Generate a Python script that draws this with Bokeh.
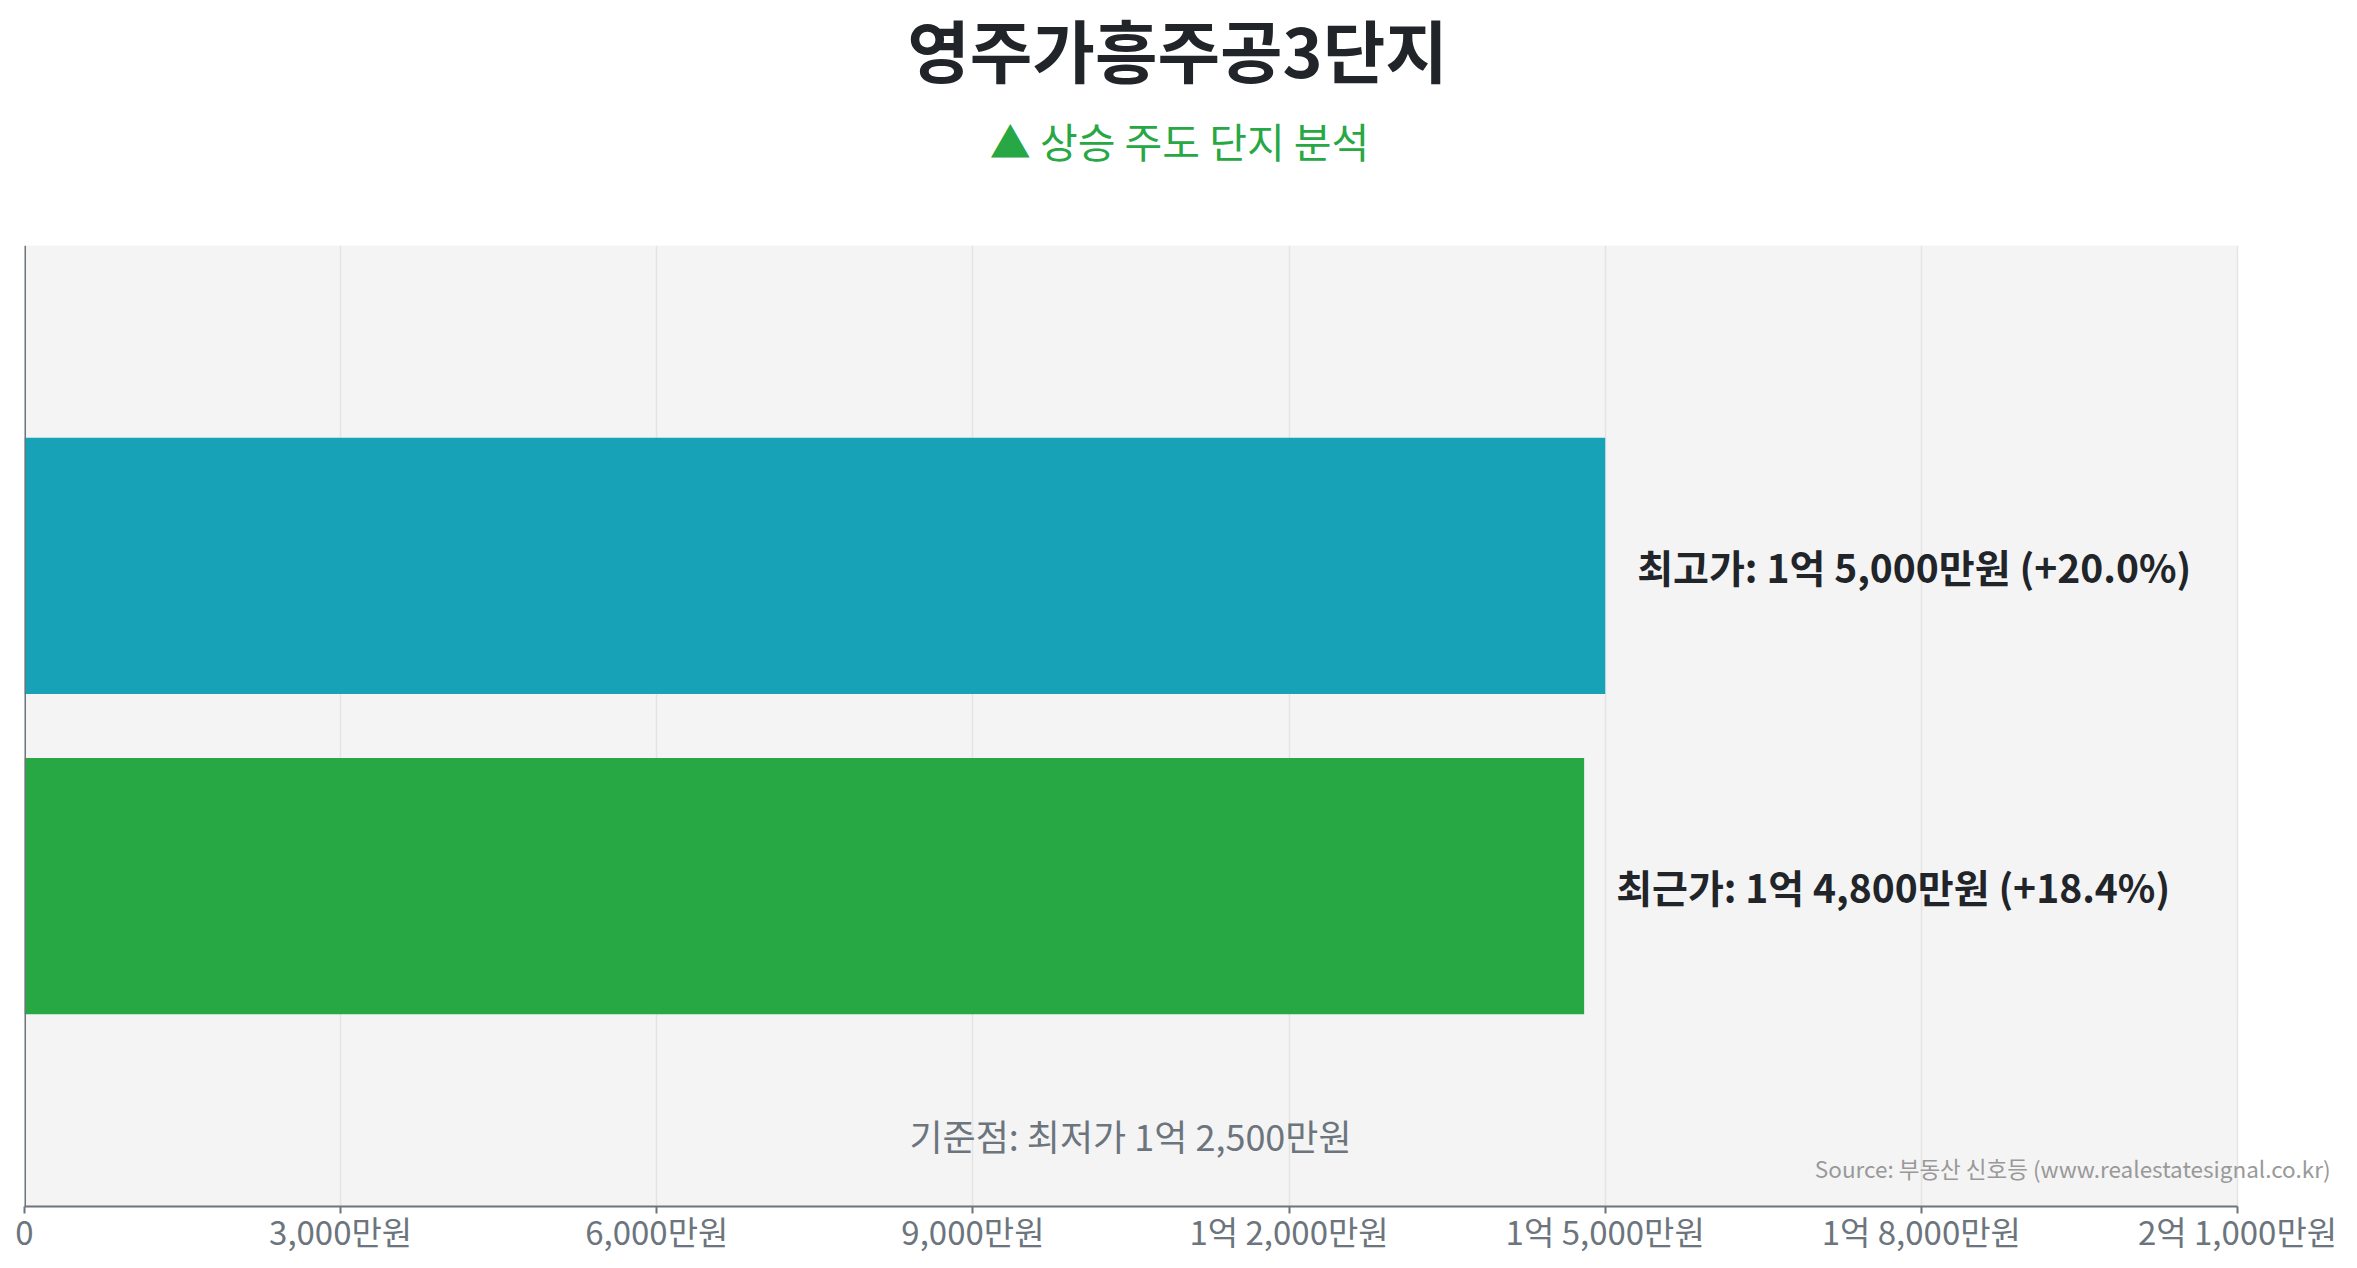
from bokeh.plotting import figure
from bokeh.layouts import column
from bokeh.models import ColumnDataSource, FactorRange, Range1d, FixedTicker, Label, BoxAnnotation, Span
from bokeh.core.properties import value
from bokeh.embed import file_html
from bokeh.resources import INLINE

# ---- data ----
title_text = "영주가흥주공3단지"
subtitle_text = "▲ 상승 주도 단지 분석"
categories = ["최근가", "최고가"]          # bottom -> top
prices = [14800, 15000]                     # 만원
bar_colors = ["#28a745", "#17a2b8"]
base_price = 12500                          # 최저가 (만원)
x_ticks = [0, 3000, 6000, 9000, 12000, 15000, 18000, 21000]
source_text = "Source: 부동산 신호등 (www.realestatesignal.co.kr)"

FONT = "Noto Sans CJK KR"


def fmt_price(v):
    v = int(v)
    if v == 0:
        return "0"
    eok, man = divmod(v, 10000)
    if eok and man:
        return f"{eok}억 {man:,}만원"
    if eok:
        return f"{eok}억원"
    return f"{man:,}만원"


labels = []
for c, v in zip(categories, prices):
    chg = (v - base_price) / base_price * 100
    labels.append(f"{c}: {fmt_price(v)} (+{chg:.1f}%)")

src = ColumnDataSource(dict(cat=categories, val=prices, color=bar_colors, label=labels))

# layout constants (pixels)
W, H = 2349, 1260
HEAD_H = 245                         # header (title block) height
FRAME_L, AREA_R = 24, 2237           # plot-area left / right edge
x_max = x_ticks[-1]
x_end = x_max * (W - FRAME_L) / (AREA_R - FRAME_L)   # frame runs to the figure edge

# ---- header figure with title + subtitle ----
head = figure(width=W, height=HEAD_H, x_range=Range1d(0, 1), y_range=Range1d(0, 1),
              x_axis_type=None, y_axis_type=None, output_backend="svg", toolbar_location=None,
              min_border=0, min_border_left=0, min_border_right=0,
              min_border_top=0, min_border_bottom=0)
head.outline_line_color = None
head.background_fill_color = "white"
head.border_fill_color = "white"
head.grid.visible = False
head.add_layout(Label(x=1153, y=HEAD_H - 48, x_units="screen", y_units="screen", text=title_text,
                      text_align="center", text_baseline="middle",
                      text_font=FONT, text_font_style="bold", text_font_size="68px",
                      text_color="#212529"))
head.add_layout(Label(x=1155, y=HEAD_H - 139, x_units="screen", y_units="screen", text=subtitle_text,
                      text_align="center", text_baseline="middle",
                      text_font=FONT, text_font_size="41px", text_color="#28a745"))

# ---- main chart ----
p = figure(
    width=W, height=H - HEAD_H,
    y_range=FactorRange(factors=categories, range_padding=0.5, range_padding_units="absolute"),
    x_range=Range1d(0, x_end),
    output_backend="svg", toolbar_location=None,
    min_border_left=FRAME_L, min_border_right=0, min_border_top=0, min_border_bottom=54,
)
p.background_fill_color = "white"
p.border_fill_color = "white"
p.outline_line_color = None

# grey plot area 0 .. x_max
p.add_layout(BoxAnnotation(left=0, right=x_max, fill_color="#f4f4f4", fill_alpha=1.0,
                           line_color=None, level="image"))

p.hbar(y="cat", left=0, right="val", height=0.8, color="color", line_color=None, source=src)

p.text(x="val", y="cat", text="label", source=src, x_offset=32,
       text_baseline="middle", text_align="left",
       text_font=value(FONT), text_font_style="bold", text_font_size="39px",
       text_color="#212529")

# axes
p.xaxis.ticker = FixedTicker(ticks=x_ticks)
p.xaxis.bounds = (0, x_max)
p.xaxis.major_label_overrides = {t: fmt_price(t) for t in x_ticks}
p.xaxis.major_label_text_font = FONT
p.xaxis.major_label_text_font_size = "33px"
p.xaxis.major_label_text_color = "#6c757d"
p.xaxis.major_label_standoff = -7
p.xaxis.axis_line_color = "#6c757d"
p.xaxis.axis_line_width = 2
p.xaxis.major_tick_line_color = "#6c757d"
p.xaxis.major_tick_line_width = 2
p.xaxis.major_tick_out = 7
p.xaxis.major_tick_in = 0
p.xaxis.minor_tick_line_color = None

# left axis: only its line is shown
p.yaxis.visible = False
p.add_layout(Span(location=0, dimension="height", line_color="#6c757d", line_width=3))

p.ygrid.grid_line_color = None
p.xgrid.grid_line_color = "#e4e4e4"
p.xgrid.grid_line_width = 1.5

# texts inside the frame (screen units: origin at frame bottom-left)
p.add_layout(Label(x=1106, y=72, x_units="screen", y_units="screen",
                   text=f"기준점: 최저가 {fmt_price(base_price)}",
                   text_align="center", text_baseline="middle",
                   text_font=FONT, text_font_size="36px", text_color="#6c757d"))
p.add_layout(Label(x=2306, y=39, x_units="screen", y_units="screen", text=source_text,
                   text_align="right", text_baseline="middle",
                   text_font=FONT, text_font_size="22.5px", text_color="#999999"))

open("out.html", "w").write(file_html(column(head, p, spacing=0), INLINE))
